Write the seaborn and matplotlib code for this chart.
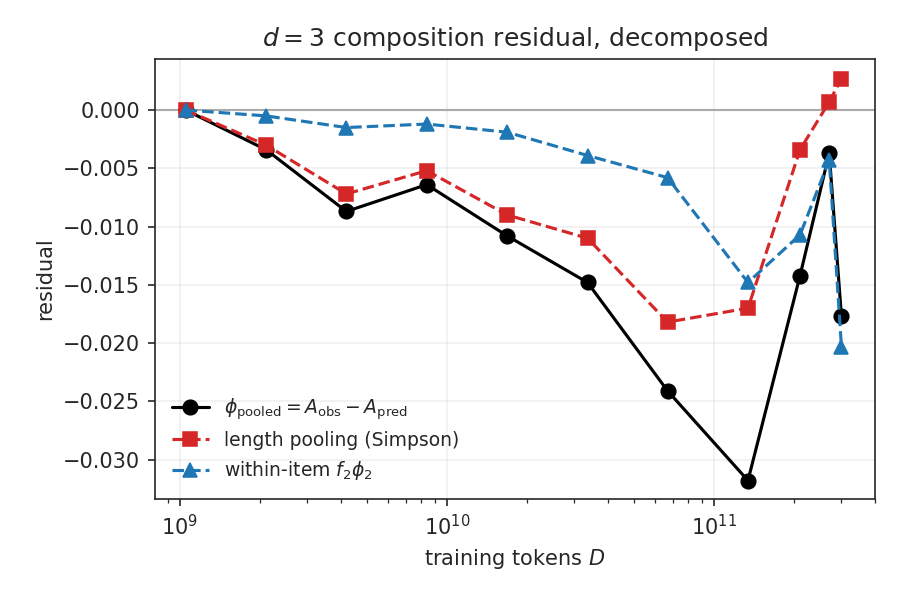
import matplotlib
matplotlib.use("Agg")
import matplotlib.pyplot as plt
import seaborn as sns
import pandas as pd

D = [1.05e9, 2.1e9, 4.2e9, 8.4e9, 1.68e10, 3.36e10, 6.7e10, 1.34e11, 2.1e11, 2.7e11, 3.0e11]
pooled = [0.0, -0.0034, -0.0087, -0.0064, -0.0108, -0.0148, -0.0241, -0.0318, -0.0142, -0.0037, -0.0177]
length = [0.0, -0.0030, -0.0072, -0.0052, -0.0090, -0.0110, -0.0182, -0.0170, -0.0034, 0.0007, 0.0027]
within = [0.0, -0.0005, -0.0015, -0.0012, -0.0019, -0.0039, -0.0058, -0.0148, -0.0107, -0.0043, -0.0203]

sns.set_style("ticks")
fig, ax = plt.subplots(figsize=(6, 4), dpi=150)
ax.axhline(0, color="#aaaaaa", lw=1, zorder=1)
series = [
    (pooled, r"$\phi_{\rm pooled} = A_{\rm obs} - A_{\rm pred}$", "black", "-", "o"),
    (length, "length pooling (Simpson)", "#d62728", "--", "s"),
    (within, r"within-item $f_2\phi_2$", "#1f77b4", "--", "^"),
]
for vals, lab, c, ls, m in series:
    df = pd.DataFrame({"D": D, "r": vals})
    sns.lineplot(data=df, x="D", y="r", ax=ax, color=c, linestyle=ls, marker=m,
                 markersize=7, markeredgecolor=c, label=lab, lw=1.5, zorder=3)
ax.set_xscale("log")
ax.set_xlim(8.05e8, 4.0e11)
ax.set_ylim(-0.0334, 0.0044)
ax.grid(True, alpha=0.3)
ax.set_xlabel("training tokens $D$")
ax.set_ylabel("residual")
ax.set_title("$d = 3$ composition residual, decomposed")
ax.legend(loc="lower left", frameon=False, fontsize=9)
fig.subplots_adjust(left=0.172, right=0.972, top=0.902, bottom=0.168)
fig.savefig("out.png", dpi=150)
